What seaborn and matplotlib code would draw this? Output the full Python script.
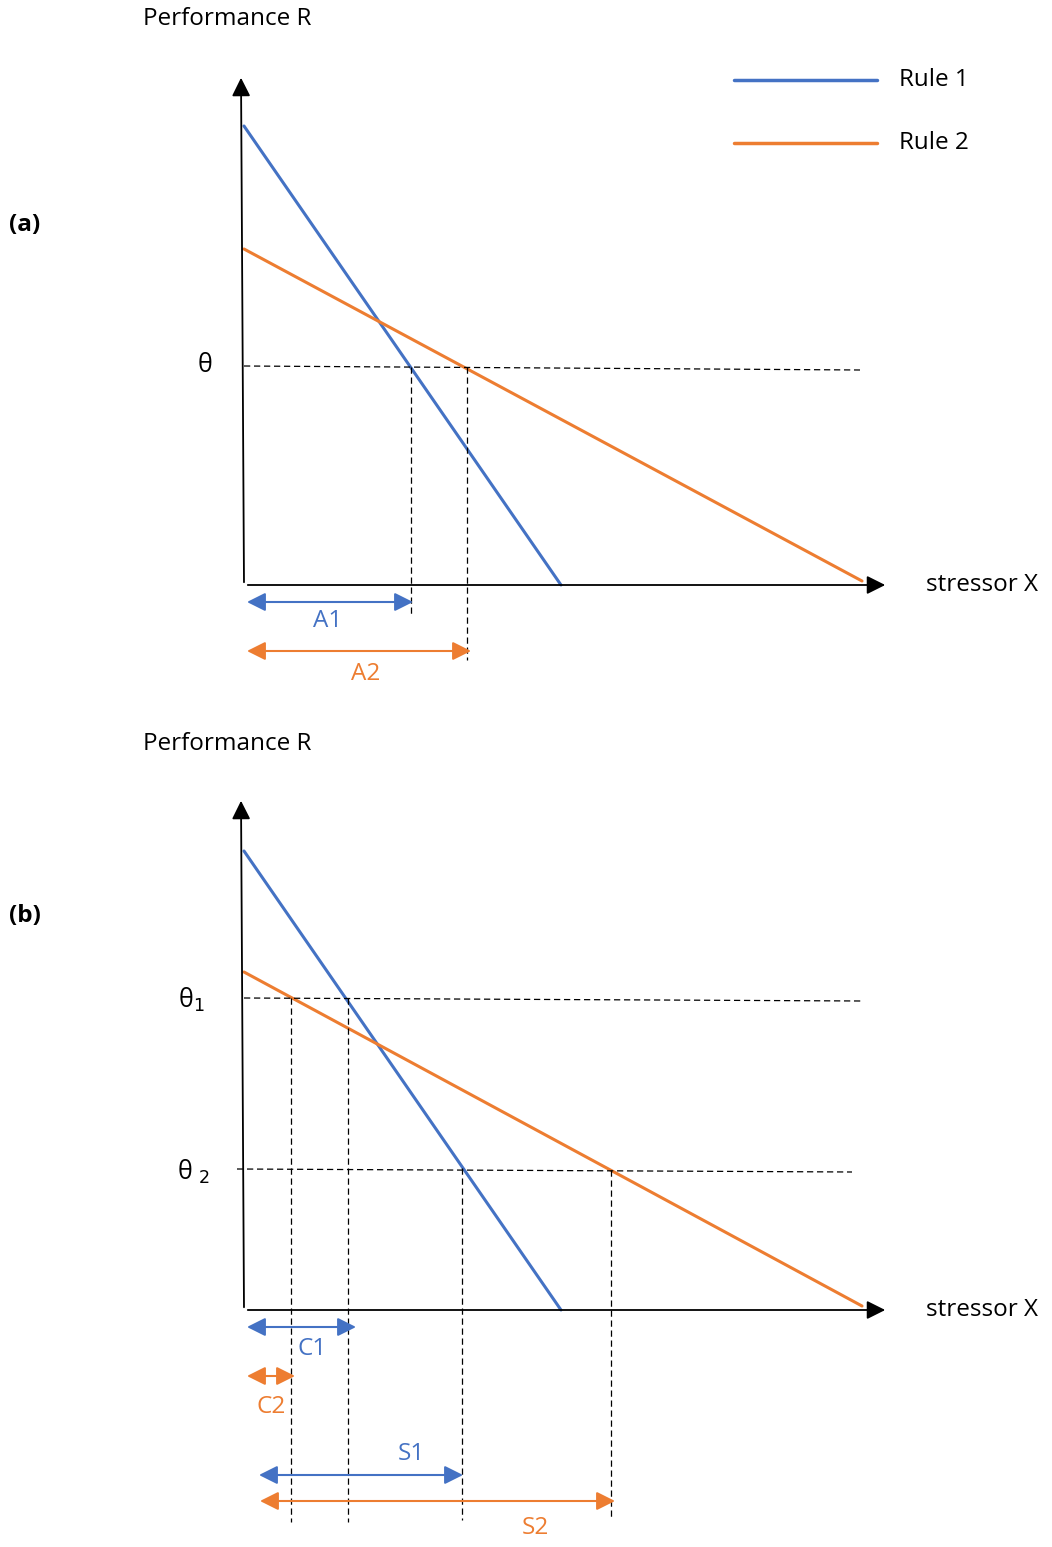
import numpy as np
import pandas as pd
import matplotlib
matplotlib.use("Agg")
import matplotlib.pyplot as plt
import seaborn as sns

# canvas is in picture pixels (y grows downward)
BLUE = '#4472C4'
ORANGE = '#ED7D31'

# panel (a)
a_rule1_x = [244, 561]
a_rule1_y = [126, 585]
a_rule2_x = [244, 862]
a_rule2_y = [249, 581]
a_theta_y = [366, 370]
a_vlines = [(411, 367, 616), (467, 367, 660)]
a_spans = [('A1', 247, 413, 602, 328, 621, BLUE), ('A2', 247, 471, 651, 366, 674, ORANGE)]

# panel (b)
b_rule1_x = [244, 561]
b_rule1_y = [851, 1310]
b_rule2_x = [244, 862]
b_rule2_y = [972, 1306]
b_theta1_y = [998, 1001]
b_theta2_y = [1169, 1172]
b_vlines = [(291, 998, 1522), (348, 998, 1522), (462, 1168, 1520), (611, 1170, 1517)]
b_spans = [('C1', 247, 356, 1327, 312, 1349, BLUE), ('C2', 247, 295, 1376, 271, 1407, ORANGE),
           ('S1', 259, 463, 1475, 411, 1454, BLUE), ('S2', 260, 615, 1501, 535, 1528, ORANGE)]

legend_labels = ['Rule 1', 'Rule 2']
legend_y = [80, 143]

sns.set_style('white')
plt.rcParams['font.family'] = ['Open Sans', 'DejaVu Sans']
plt.rcParams['text.color'] = 'black'

FS = 17.5

fig = plt.figure(figsize=(10.52, 15.47), dpi=100)
ax = fig.add_axes([0, 0, 1, 1])
ax.set_xlim(0, 1052)
ax.set_ylim(1547, 0)
ax.axis('off')

lines = pd.concat([
    pd.DataFrame({'x': a_rule1_x, 'y': a_rule1_y, 'rule': 'Rule 1', 'panel': 'a'}),
    pd.DataFrame({'x': a_rule2_x, 'y': a_rule2_y, 'rule': 'Rule 2', 'panel': 'a'}),
    pd.DataFrame({'x': b_rule1_x, 'y': b_rule1_y, 'rule': 'Rule 1', 'panel': 'b'}),
    pd.DataFrame({'x': b_rule2_x, 'y': b_rule2_y, 'rule': 'Rule 2', 'panel': 'b'}),
])
for p, d in lines.groupby('panel'):
    sns.lineplot(data=d, x='x', y='y', hue='rule', palette=[BLUE, ORANGE], lw=2.2,
                 legend=False, ax=ax, sort=False, estimator=None, units='rule')

dash = dict(color='black', lw=0.9, ls=(0, (5, 3)))

def axes_frame(top, base, label_y):
    ax.annotate('', xy=(241, top), xytext=(244, base),
                arrowprops=dict(arrowstyle='-|>', color='black', lw=1.3, mutation_scale=28))
    ax.annotate('', xy=(888, base), xytext=(245, base),
                arrowprops=dict(arrowstyle='-|>', color='black', lw=1.3, mutation_scale=28))
    ax.text(227, label_y, 'Performance R', fontsize=FS, ha='center', va='center')
    ax.text(982, base, 'stressor X', fontsize=FS, ha='center', va='center')

def span(label, x0, x1, y, tx, ty, c):
    ax.annotate('', xy=(x1, y), xytext=(x0, y),
                arrowprops=dict(arrowstyle='<|-|>', color=c, lw=1.5, mutation_scale=28,
                                shrinkA=0, shrinkB=0))
    ax.text(tx, ty, label, color=c, fontsize=FS, ha='center', va='center')

# (a)
axes_frame(75, 585, 19)
ax.text(25, 225, '(a)', fontsize=FS, fontweight='bold', ha='center', va='center')
ax.plot([244, 860], a_theta_y, **dash)
ax.text(205, 366, 'θ', fontsize=18, ha='center', va='center')
for x, y0, y1 in a_vlines:
    ax.plot([x, x], [y0, y1], **dash)
for s in a_spans:
    span(*s)

# legend
for lab, y, c in zip(legend_labels, legend_y, [BLUE, ORANGE]):
    ax.plot([734, 877], [y, y], color=c, lw=2.5)
    ax.text(899, y, lab, fontsize=FS, ha='left', va='center')

# (b)
axes_frame(798, 1310, 744)
ax.text(25, 916, '(b)', fontsize=FS, fontweight='bold', ha='center', va='center')
ax.plot([244, 862], b_theta1_y, **dash)
ax.plot([237, 852], b_theta2_y, **dash)
ax.text(191, 1000, 'θ$_1$', fontsize=18, ha='center', va='center')
ax.text(193, 1172, 'θ $_2$', fontsize=18, ha='center', va='center')
for x, y0, y1 in b_vlines:
    ax.plot([x, x], [y0, y1], **dash)
for s in b_spans:
    span(*s)

fig.savefig('out.png', dpi=100)
